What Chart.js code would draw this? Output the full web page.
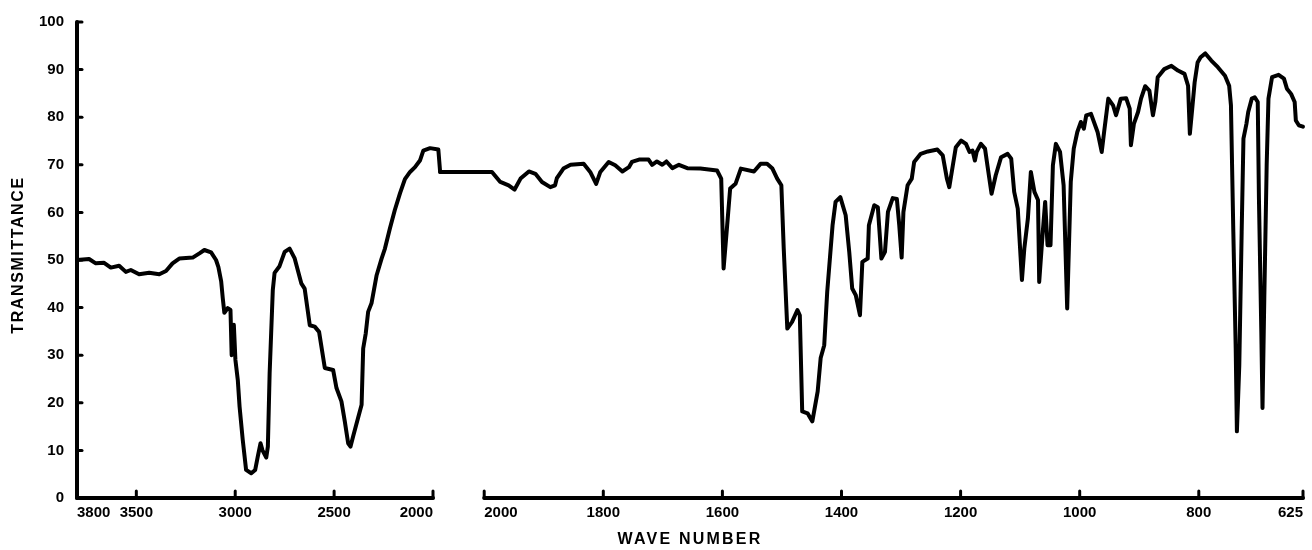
<!DOCTYPE html>
<html>
<head>
<meta charset="utf-8">
<script src="https://cdn.jsdelivr.net/npm/chart.js@4.4.1/dist/chart.umd.min.js"></script>
<style>
  html, body { margin: 0; padding: 0; background: #fff; }
  #wrap { position: relative; width: 1312px; height: 550px; }
</style>
</head>
<body>
<div id="wrap"><canvas id="c"></canvas></div>
<script>
// ---- Data ----
const yTitle = 'TRANSMITTANCE';
const xTitle = 'WAVE NUMBER';
const yTickValues = [0, 10, 20, 30, 40, 50, 60, 70, 80, 90, 100];
const leftTickValues = [2000, 2500, 3000, 3500, 3800];
const rightTickValues = [625, 800, 1000, 1200, 1400, 1600, 1800, 2000];

// left panel (3800 - 2000 cm-1)
const leftWn = [3800,3739,3705,3663,3629,3587,3553,3528,3486,3435,3384,3350,3317,3283,3215,3181,3156,3122,3097,3085,
  3071,3063,3055,3038,3024,3018,3007,2999,2987,2978,2962,2945,2919,2899,2886,2872,2862,2843,2835,2826,
  2810,2801,2776,2750,2725,2700,2666,2649,2623,2598,2576,2547,2505,2488,2463,2446,2429,2417,2404,2379,
  2361,2353,2340,2328,2311,2285,2260,2243,2218,2193,2167,2142,2116,2091,2066,2049,2015,1973,1964];
const leftT = [50.0,50.2,49.3,49.4,48.4,48.8,47.5,47.9,47.0,47.3,47.0,47.7,49.3,50.3,50.5,51.4,52.1,51.6,50.0,48.5,
  45.5,42.0,38.9,39.9,39.5,30.0,36.4,29.0,24.8,19.2,12.2,5.9,5.2,5.9,8.7,11.5,10.0,8.5,10.8,26.2,
  43.7,47.3,48.7,51.7,52.4,50.4,45.1,44.0,36.3,36.0,34.9,27.3,26.9,23.1,20.3,16.1,11.5,10.8,12.9,16.8,
  19.6,31.4,34.6,39.1,40.9,46.8,50.3,52.4,56.6,60.5,64.0,67.0,68.5,69.5,70.9,73.0,73.5,73.2,68.5];

// right panel (2000 - 625 cm-1)
const rightWn = [2074,2000,1987,1973,1959,1949,1939,1925,1914,1903,1889,1881,1878,1867,1855,1833,1822,1812,1805,1791,
  1780,1768,1757,1752,1740,1724,1718,1710,1701,1694,1684,1673,1659,1637,1609,1602,1598,1592,1587,1578,
  1569,1547,1536,1525,1516,1508,1501,1497,1491,1483,1474,1470,1466,1457,1449,1440,1435,1429,1424,1415,
  1410,1402,1393,1387,1382,1376,1369,1365,1356,1354,1345,1339,1333,1327,1322,1314,1307,1303,1299,1296,
  1289,1282,1278,1267,1255,1239,1230,1223,1219,1213,1208,1199,1191,1185,1180,1176,1173,1166,1159,1155,
  1148,1141,1132,1121,1115,1110,1104,1097,1093,1087,1082,1076,1070,1068,1062,1058,1054,1049,1045,1040,
  1033,1027,1021,1015,1010,1004,998,993,989,981,970,963,959,952,944,939,931,922,916,914,
  909,902,897,890,883,877,873,869,858,846,835,824,818,815,811,807,802,797,789,779,
  768,756,749,746,742,738,736,732,728,725,720,717,711,706,701,699,695,693,690,686,
  683,677,666,657,652,645,639,637,632,625];
const rightT = [68.5,68.5,68.5,66.4,65.7,64.8,67.1,68.6,68.1,66.4,65.3,65.7,67.2,69.2,70.0,70.2,68.5,66.0,68.5,70.6,
  69.9,68.6,69.5,70.6,71.1,71.1,70.0,70.7,70.0,70.7,69.3,70.0,69.3,69.2,68.8,67.1,48.2,57.3,65.0,66.0,
  69.2,68.6,70.2,70.2,69.2,67.1,65.7,52.4,35.6,37.0,39.5,38.4,18.2,17.8,16.1,22.4,29.4,32.1,43.3,57.3,
  62.2,63.2,59.4,51.7,44.0,42.6,38.4,49.6,50.3,57.3,61.5,61.1,50.3,51.7,60.1,63.0,62.8,57.3,50.5,60.1,
  65.7,67.1,70.6,72.3,72.8,73.2,72.0,67.1,65.3,69.9,73.7,75.1,74.4,72.7,73.0,70.9,72.7,74.4,73.4,69.9,
  63.9,67.8,71.6,72.3,71.3,64.3,60.8,45.8,52.4,58.7,68.5,64.3,62.6,45.4,55.9,62.2,53.1,53.1,69.9,74.4,
  72.7,65.7,39.8,66.4,73.4,76.9,79.0,77.6,80.4,80.7,76.9,72.7,76.9,83.9,82.5,80.4,83.9,84.0,81.8,74.1,
  78.6,81.1,83.9,86.5,85.6,80.4,83.2,88.4,90.1,90.8,89.8,89.1,86.6,76.5,81.8,87.3,91.5,92.6,93.4,91.9,
  90.5,88.7,86.6,82.5,55.9,31.4,14.0,27.9,55.9,75.5,78.6,81.1,83.9,84.2,83.2,62.9,34.9,18.9,41.9,69.9,
  83.9,88.4,88.9,88.1,86.0,84.9,83.2,79.3,78.3,78.0];

// ---- Chart ----
const INK = '#000';
const FONT = '"Liberation Sans", Arial, sans-serif';
Chart.defaults.font.family = FONT;
Chart.defaults.color = INK;

const toPts = (xs, ys) => xs.map((x, i) => ({ x: x, y: ys[i] }));
const plainLabel = v => String(v);

const axesPlugin = {
  id: 'irAxes',
  beforeDatasetsDraw(chart) {
    const { ctx, scales } = chart;
    const xL = scales.xL, xR = scales.xR, y = scales.y;
    const y0 = y.getPixelForValue(0), yTop = y.getPixelForValue(100);
    const xa = xL.getPixelForValue(3800);
    const seg = (x1, y1, x2, y2) => { ctx.beginPath(); ctx.moveTo(x1, y1); ctx.lineTo(x2, y2); ctx.stroke(); };
    ctx.save();
    ctx.strokeStyle = INK;
    ctx.lineCap = 'round';
    ctx.lineWidth = 4;
    seg(xa, yTop, xa, y0);
    seg(xa, y0, xL.getPixelForValue(2000), y0);
    seg(xR.getPixelForValue(2000), y0, xR.getPixelForValue(625), y0);
    ctx.lineWidth = 3;
    yTickValues.forEach(v => { if (v > 0) { const py = y.getPixelForValue(v); seg(xa, py, xa + 5, py); } });
    leftTickValues.forEach(v => { if (v !== 3800) { const px = xL.getPixelForValue(v); seg(px, y0, px, y0 - 7); } });
    rightTickValues.forEach(v => { const px = xR.getPixelForValue(v); seg(px, y0, px, y0 - 7); });
    ctx.restore();
  },
  afterDraw(chart) {
    const { ctx, chartArea } = chart;
    ctx.save();
    ctx.fillStyle = INK;
    ctx.textAlign = 'center';
    ctx.textBaseline = 'middle';
    ctx.font = 'bold 16px ' + FONT;
    ctx.letterSpacing = '1.6px';
    ctx.translate(19, (chartArea.top + chartArea.bottom) / 2 - 5);
    ctx.rotate(-Math.PI / 2);
    ctx.fillText(yTitle, 0, 0);
    ctx.restore();
    ctx.save();
    ctx.fillStyle = INK;
    ctx.textAlign = 'center';
    ctx.textBaseline = 'middle';
    ctx.font = 'bold 16px ' + FONT;
    ctx.letterSpacing = '2.2px';
    ctx.fillText(xTitle, 690, 540);
    ctx.restore();
  }
};

const tickFont = { size: 15, weight: 'bold', family: FONT };

new Chart(document.getElementById('c'), {
  type: 'line',
  data: {
    datasets: [
      { data: toPts(leftWn, leftT), xAxisID: 'xL', yAxisID: 'y', borderColor: INK, borderWidth: 4,
        pointRadius: 0, tension: 0, fill: false, clip: false, borderJoinStyle: 'round', borderCapStyle: 'round' },
      { data: toPts(rightWn, rightT), xAxisID: 'xR', yAxisID: 'y', borderColor: INK, borderWidth: 4,
        pointRadius: 0, tension: 0, fill: false, clip: false, borderJoinStyle: 'round', borderCapStyle: 'round' }
    ]
  },
  options: {
    responsive: true,
    maintainAspectRatio: false,
    animation: false,
    events: [],
    layout: { padding: { top: 22, right: 9, bottom: 0, left: 0 } },
    plugins: { legend: { display: false }, tooltip: { enabled: false }, title: { display: false } },
    scales: {
      xL: {
        type: 'linear', position: 'bottom', stack: 'wn', stackWeight: 356,
        min: 2000, max: 3800, reverse: true, offset: false,
        grid: { display: false, drawTicks: false }, border: { display: false },
        afterBuildTicks: s => { s.ticks = leftTickValues.map(v => ({ value: v })); },
        afterFit: s => { s.height = 52; s.paddingLeft = 0; s.paddingRight = 0; },
        ticks: { autoSkip: false, maxRotation: 0, align: 'inner', padding: 6, color: INK, font: tickFont, callback: plainLabel }
      },
      xR: {
        type: 'linear', position: 'bottom', stack: 'wn', stackWeight: 870,
        min: 625, max: 2086, reverse: true, offset: false,
        grid: { display: false, drawTicks: false }, border: { display: false },
        afterBuildTicks: s => { s.ticks = rightTickValues.map(v => ({ value: v })); },
        afterFit: s => { s.height = 52; s.paddingLeft = 0; s.paddingRight = 0; },
        ticks: { autoSkip: false, maxRotation: 0, align: 'inner', padding: 6, color: INK, font: tickFont, callback: plainLabel }
      },
      y: {
        type: 'linear', position: 'left', min: 0, max: 100,
        grid: { display: false, drawTicks: false }, border: { display: false },
        afterBuildTicks: s => { s.ticks = yTickValues.map(v => ({ value: v })); },
        afterFit: s => { s.width = 77; },
        ticks: { padding: 13, color: INK, font: tickFont, callback: plainLabel }
      }
    }
  },
  plugins: [axesPlugin]
});
</script>
</body>
</html>
